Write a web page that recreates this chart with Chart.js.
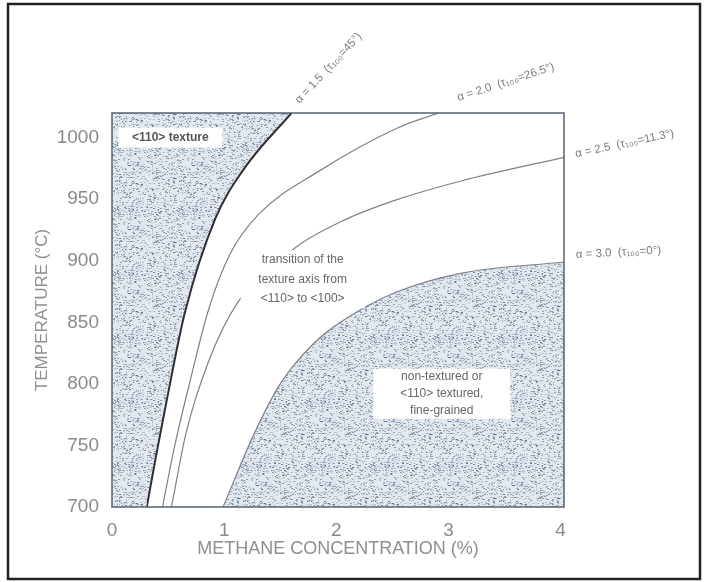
<!DOCTYPE html>
<html>
<head>
<meta charset="utf-8">
<script src="https://cdn.jsdelivr.net/npm/chart.js@4.4.0/dist/chart.umd.min.js"></script>
<style>
  body { margin: 0; background: #ffffff; }
  #wrap { position: relative; width: 704px; height: 582px; }
</style>
</head>
<body>
<div id="wrap"><canvas id="myChart" width="704" height="582"></canvas></div>
<script>
// curves: methane concentration (%) vs temperature (°C)
const alpha15X = [0.31, 0.40, 0.51, 0.65, 0.92, 1.18, 1.60];
const alpha15T = [700, 745, 797, 858, 934, 975, 1020];

const alpha20X = [0.45, 0.56, 0.69, 0.86, 1.05, 1.30, 1.85, 2.55, 2.91];
const alpha20T = [700, 750, 800, 860, 905, 937, 973, 1008, 1020];

const alpha25X = [0.53, 0.66, 0.86, 1.12, 1.64, 2.07, 2.52, 3.12, 4.03];
const alpha25T = [700, 760, 818, 866, 911, 933, 949, 965, 984];

const alpha30X = [0.99, 1.27, 1.50, 1.80, 2.07, 2.52, 3.12, 4.03];
const alpha30T = [700, 760, 800, 833, 852, 874, 890, 899];

const xTicks = [0, 1, 2, 3, 4];
const yTicks = [700, 750, 800, 850, 900, 950, 1000];

const curveLabels = [
  "\u03b1 = 1.5  (\u03c4\u2081\u2080\u2080=45\u00b0)",
  "\u03b1 = 2.0  (\u03c4\u2081\u2080\u2080=26.5\u00b0)",
  "\u03b1 = 2.5  (\u03c4\u2081\u2080\u2080=11.3\u00b0)",
  "\u03b1 = 3.0  (\u03c4\u2081\u2080\u2080=0\u00b0)",
];

function toPoints(xs, ts) {
  return xs.map((x, i) => ({ x: x, y: ts[i] }));
}

let elements = {
  ctx: document.getElementById("myChart").getContext("2d"),
};

function makeStipple() {
  let c = document.createElement("canvas");
  c.width = 64;
  c.height = 64;
  let g = c.getContext("2d");
  g.fillStyle = "#e3e8ee";
  g.fillRect(0, 0, 64, 64);
  let s = 12345;
  let next = () => (s = (s * 16807) % 2147483647) / 2147483647;
  for (let i = 0; i < 760; i++) {
    g.fillStyle = next() < 0.45 ? "rgba(60,80,110,0.5)" : "rgba(130,150,175,0.5)";
    g.fillRect(Math.floor(next() * 64), Math.floor(next() * 64), 1 + Math.floor(next() * 2), 1);
  }
  return elements.ctx.createPattern(c, "repeat");
}

const stipple = makeStipple();

function drawBoxText(ctx, lines, cx, cy, w, h, font, color) {
  ctx.fillStyle = "#ffffff";
  ctx.fillRect(cx - w / 2, cy - h / 2, w, h);
  ctx.font = font;
  ctx.fillStyle = color;
  ctx.textAlign = "center";
  ctx.textBaseline = "middle";
  let lh = h / lines.length;
  lines.forEach((l, i) => {
    ctx.fillText(l, cx, cy - h / 2 + lh * (i + 0.5));
  });
}

const overlayPlugin = {
  id: "overlay",
  afterDatasetsDraw(chart) {
    let ctx = chart.ctx;
    let a = chart.chartArea;
    let xs = chart.scales.x;
    let ys = chart.scales.y;
    ctx.save();

    // region labels
    drawBoxText(ctx, ["<110> texture"], xs.getPixelForValue(0.52), ys.getPixelForValue(1000), 104, 20,
      "bold 12px 'Liberation Sans', Arial, sans-serif", "#555");
    drawBoxText(ctx, ["transition of the", "texture axis from", "<110> to <100>"],
      xs.getPixelForValue(1.70), ys.getPixelForValue(885), 124, 58,
      "12px 'Liberation Sans', Arial, sans-serif", "#666");
    drawBoxText(ctx, ["non-textured or", "<110> textured,", "fine-grained"],
      xs.getPixelForValue(2.94), ys.getPixelForValue(792), 137, 50,
      "12px 'Liberation Sans', Arial, sans-serif", "#666");

    // frame of the plot
    ctx.strokeStyle = "#556070";
    ctx.lineWidth = 1.5;
    ctx.strokeRect(a.left, a.top, a.right - a.left, a.bottom - a.top);

    // curve labels at the curve ends
    let ends = [
      [alpha15X, alpha15T, 8, -9, -47],
      [alpha20X, alpha20T, 20, -12, -18],
      [alpha25X, alpha25T, 12, 0, -12],
      [alpha30X, alpha30T, 12, -4, -3],
    ];
    ctx.font = "11.5px 'Liberation Sans', Arial, sans-serif";
    ctx.fillStyle = "#7a7a7a";
    ctx.textAlign = "left";
    ctx.textBaseline = "alphabetic";
    ends.forEach((e, i) => {
      let n = e[0].length - 1;
      let px = xs.getPixelForValue(e[0][n]) + e[2];
      let py = ys.getPixelForValue(e[1][n]) + e[3];
      ctx.save();
      ctx.translate(px, py);
      ctx.rotate((e[4] * Math.PI) / 180);
      ctx.fillText(curveLabels[i], 0, 0);
      ctx.restore();
    });

    // outer frame of the figure
    ctx.strokeStyle = "#222";
    ctx.lineWidth = 2.5;
    ctx.strokeRect(8, 4, 692, 575);
    ctx.restore();
  },
};

let myChart = new Chart(elements.ctx, {
  type: "line",
  data: {
    datasets: [
      {
        label: "shade left",
        data: [{ x: 0, y: 1020 }, { x: alpha15X[0], y: 1020 }],
        borderWidth: 0,
        pointRadius: 0,
        backgroundColor: stipple,
        fill: "start",
      },
      {
        label: "alpha 1.5",
        data: toPoints(alpha15X, alpha15T),
        borderColor: "#2f2f35",
        borderWidth: 2,
        pointRadius: 0,
        cubicInterpolationMode: "monotone",
        backgroundColor: stipple,
        fill: "end",
      },
      {
        label: "alpha 2.0",
        data: toPoints(alpha20X, alpha20T),
        borderColor: "#808085",
        borderWidth: 1.2,
        pointRadius: 0,
        cubicInterpolationMode: "monotone",
        fill: false,
      },
      {
        label: "alpha 2.5",
        data: toPoints(alpha25X, alpha25T),
        borderColor: "#808085",
        borderWidth: 1.2,
        pointRadius: 0,
        cubicInterpolationMode: "monotone",
        fill: false,
      },
      {
        label: "alpha 3.0",
        data: toPoints(alpha30X, alpha30T),
        borderColor: "#808085",
        borderWidth: 1.2,
        pointRadius: 0,
        cubicInterpolationMode: "monotone",
        backgroundColor: stipple,
        fill: "start",
      },
    ],
  },
  options: {
    responsive: false,
    animation: false,
    events: [],
    layout: { padding: { left: 0, right: 140, top: 113, bottom: 0 } },
    plugins: {
      legend: { display: false },
      tooltip: { enabled: false },
    },
    scales: {
      x: {
        type: "linear",
        min: 0,
        max: 4.03,
        afterBuildTicks: (s) => {
          s.ticks = xTicks.map((v) => ({ value: v }));
        },
        afterFit: (s) => {
          s.height = 75;
        },
        grid: { display: false },
        border: { display: false },
        ticks: {
          padding: 4,
          color: "#8a8a8a",
          font: { family: "'Liberation Sans', Arial, sans-serif", size: 19 },
          callback: (v) => String(v),
        },
        title: {
          display: true,
          text: "METHANE CONCENTRATION (%)",
          color: "#8f8f8f",
          font: { family: "'Liberation Sans', Arial, sans-serif", size: 18 },
          padding: { top: 0, bottom: 22 },
        },
      },
      y: {
        type: "linear",
        min: 700,
        max: 1020,
        afterBuildTicks: (s) => {
          s.ticks = yTicks.map((v) => ({ value: v }));
        },
        afterFit: (s) => {
          s.width = 112;
        },
        grid: { display: false },
        border: { display: false },
        ticks: {
          padding: 5,
          color: "#8a8a8a",
          font: { family: "'Liberation Sans', Arial, sans-serif", size: 19 },
          callback: (v) => String(v),
        },
        title: {
          display: true,
          text: "TEMPERATURE (°C)",
          color: "#8f8f8f",
          font: { family: "'Liberation Sans', Arial, sans-serif", size: 17 },
          padding: { top: 32, bottom: 0 },
        },
      },
    },
  },
  plugins: [overlayPlugin],
});
</script>
</body>
</html>
